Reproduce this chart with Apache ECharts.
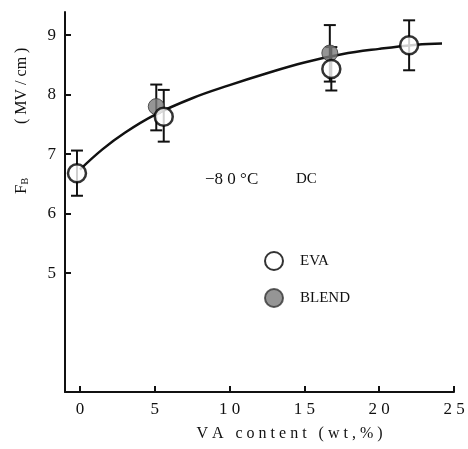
<!DOCTYPE html>
<html>
<head>
<meta charset="utf-8">
<script src="https://cdn.jsdelivr.net/npm/echarts@6/dist/echarts.min.js"></script>
<style>
  html, body { margin: 0; padding: 0; background: #fff; }
  #main { width: 468px; height: 449px; }
</style>
</head>
<body>
<div id="main"></div>
<script>
// VA content (wt%) vs breakdown field F_B (MV/cm), -80 C DC
const xTicks = [0, 5, 10, 15, 20, 25]
const yTicks = [5, 6, 7, 8, 9]

// [x, y, low, high]
const evaPoints = [
  [-0.2, 6.68, 6.30, 7.06],
  [5.6, 7.63, 7.21, 8.08],
  [16.8, 8.43, 8.07, 8.80],
  [22.0, 8.83, 8.41, 9.25]
]
const blendPoints = [
  [5.1, 7.80, 7.40, 8.17],
  [16.7, 8.70, 8.22, 9.17]
]
// hand drawn fitting curve
const curveX = [0, 1.5, 3, 5, 7.5, 10, 12.5, 15, 17.5, 20, 22.5, 24.2]
const curveY = [6.74, 7.08, 7.36, 7.66, 7.94, 8.16, 8.36, 8.54, 8.68, 8.77, 8.84, 8.86]

const serif = '"Liberation Serif", "DejaVu Serif", serif'
const myChart = echarts.init(document.getElementById('main'))

function errorBar (params, api) {
  const x = api.value(0)
  const top = api.coord([x, api.value(3)])
  const bot = api.coord([x, api.value(2)])
  const w = 6
  const style = { stroke: '#111', lineWidth: 2 }
  return {
    type: 'group',
    children: [
      { type: 'line', shape: { x1: top[0], y1: top[1], x2: bot[0], y2: bot[1] }, style },
      { type: 'line', shape: { x1: top[0] - w, y1: top[1], x2: top[0] + w, y2: top[1] }, style },
      { type: 'line', shape: { x1: bot[0] - w, y1: bot[1], x2: bot[0] + w, y2: bot[1] }, style }
    ]
  }
}

const option = {
  animation: false,
  backgroundColor: '#fff',
  grid: { left: 65, right: 14, top: 12, bottom: 57 },
  xAxis: {
    type: 'value',
    min: -1,
    max: 25,
    name: 'V A   c o n t e n t   ( w t , % )',
    nameLocation: 'middle',
    nameGap: 34,
    nameTextStyle: { fontFamily: serif, fontSize: 16, color: '#111', padding: [0, 0, 0, 60] },
    axisLine: { onZero: false, lineStyle: { color: '#111', width: 2 } },
    axisTick: { inside: true, length: 6, lineStyle: { color: '#111', width: 2 }, customValues: xTicks },
    axisLabel: {
      customValues: xTicks,
      fontFamily: serif,
      fontSize: 17,
      color: '#111',
      margin: 9,
      formatter: v => String(v).split('').join(' ')
    },
    splitLine: { show: false }
  },
  yAxis: {
    type: 'value',
    min: 3,
    max: 9.39,
    axisLine: { show: true, onZero: false, lineStyle: { color: '#111', width: 2 } },
    axisTick: { show: true, inside: true, length: 6, lineStyle: { color: '#111', width: 2 }, customValues: yTicks },
    axisLabel: { customValues: yTicks, fontFamily: serif, fontSize: 17, color: '#111', margin: 9 },
    splitLine: { show: false }
  },
  legend: {
    orient: 'vertical',
    left: 259,
    top: 246,
    itemGap: 17,
    itemWidth: 18,
    itemHeight: 18,
    data: [{ name: 'EVA', icon: 'circle' }, { name: 'BLEND', icon: 'circle' }],
    textStyle: { fontFamily: serif, fontSize: 15, color: '#111', padding: [0, 0, 0, 12] }
  },
  graphic: [
    {
      type: 'text',
      rotation: Math.PI / 2,
      x: 14, y: 124,
      style: { text: '( MV / cm )', font: '16px ' + serif, fill: '#111' }
    },
    {
      type: 'text',
      rotation: Math.PI / 2,
      x: 13, y: 194,
      style: {
        text: '{f|F}{s|B}',
        rich: {
          f: { font: '17px ' + serif, fill: '#111' },
          s: { font: '10px ' + serif, fill: '#111', padding: [7, 0, 0, 0] }
        }
      }
    },
    {
      type: 'text', x: 205, y: 171,
      style: { text: '−8 0 °C', font: '17px ' + serif, fill: '#111' }
    },
    {
      type: 'text', x: 296, y: 172,
      style: { text: 'DC', font: '15px ' + serif, fill: '#111' }
    }
  ],
  series: [
    {
      type: 'line',
      data: curveX.map((x, i) => [x, curveY[i]]),
      smooth: 0.4,
      symbol: 'none',
      lineStyle: { color: '#111', width: 2.5 },
      z: 1
    },
    {
      type: 'custom',
      renderItem: errorBar,
      data: evaPoints.concat(blendPoints),
      z: 2
    },
    {
      name: 'BLEND',
      type: 'scatter',
      data: blendPoints.map(p => [p[0], p[1]]),
      symbol: 'circle',
      symbolSize: 16,
      itemStyle: { color: '#7a7a7a', borderColor: '#333', borderWidth: 1 },
      z: 3
    },
    {
      name: 'EVA',
      type: 'scatter',
      data: evaPoints.map(p => [p[0], p[1]]),
      symbol: 'circle',
      symbolSize: 18,
      itemStyle: { color: '#fff', borderColor: '#000', borderWidth: 2.5 },
      z: 4
    }
  ]
}
myChart.setOption(option)
</script>
</body>
</html>
